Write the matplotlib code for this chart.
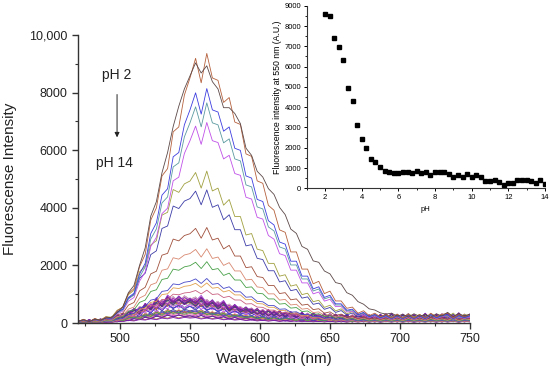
import numpy as np
import matplotlib
matplotlib.use("Agg")
import matplotlib.pyplot as plt
from matplotlib.ticker import MultipleLocator, FixedLocator

plt.rcParams['font.family'] = ['Liberation Sans', 'DejaVu Sans']

# ---------------- data ----------------
wavelength = list(range(470, 751, 4))

# spectral shapes
shape_top = [60, 110, 50, 130, 100, 170, 200, 360,
             560, 1050, 1300, 2000, 2600, 3700, 4200, 5200, 5900, 6800, 7500, 8100, 8550, 9000, 8650,
             8900, 8350, 8100, 7450, 7450, 7250, 6900, 6050, 5800, 5250,
             5050, 4650, 4450, 4000, 3750, 3250, 3100, 2650, 2550, 2150, 2100, 1800, 1700, 1400, 1350,
             1050, 960, 740, 650, 490, 450, 350, 310, 340, 240,
             300, 210, 320, 230, 300, 200, 320, 240, 370, 220, 330, 240, 310]
shape_high = [0.006, 0.015, 0.005, 0.018, 0.01, 0.025, 0.02, 0.05,
              0.065, 0.12, 0.14, 0.23, 0.28, 0.42, 0.47, 0.60, 0.63, 0.78, 0.80, 0.93, 1.0, 1.08, 0.98,
              1.10, 1.0, 0.99, 0.90, 0.92, 0.82, 0.81, 0.69, 0.68, 0.58,
              0.57, 0.48, 0.46, 0.38, 0.37, 0.29, 0.29, 0.22, 0.22, 0.16, 0.17, 0.12, 0.13, 0.09, 0.09,
              0.06, 0.065, 0.04, 0.05, 0.03, 0.04, 0.025, 0.035, 0.02, 0.035,
              0.02, 0.035, 0.02, 0.035, 0.02, 0.04, 0.025, 0.035, 0.04, 0.02, 0.035, 0.025, 0.035]
shape_mid = [0.01, 0.025, 0.008, 0.03, 0.02, 0.045, 0.04, 0.09,
             0.11, 0.2, 0.23, 0.36, 0.40, 0.55, 0.58, 0.76, 0.78, 0.94, 0.92, 0.98, 1.0, 1.06, 0.95,
             1.07, 0.93, 0.95, 0.83, 0.87, 0.75, 0.75, 0.62, 0.63, 0.52,
             0.51, 0.42, 0.42, 0.33, 0.34, 0.26, 0.27, 0.2, 0.21, 0.15, 0.16, 0.11, 0.125, 0.085, 0.1,
             0.065, 0.08, 0.05, 0.07, 0.045, 0.06, 0.04, 0.06, 0.04, 0.06,
             0.035, 0.065, 0.04, 0.06, 0.035, 0.065, 0.045, 0.06, 0.04, 0.07, 0.035, 0.06, 0.05]
shape_low_a = [0.05, 0.15, 0.04, 0.18, 0.08, 0.2, 0.14, 0.3,
               0.3, 0.52, 0.42, 0.7, 0.6, 0.85, 0.68, 1.0, 0.85, 1.12, 0.88, 1.15, 1.0, 1.1, 0.82,
               1.0, 0.78, 0.92, 0.66, 0.8, 0.6, 0.7, 0.5, 0.62, 0.42,
               0.56, 0.38, 0.52, 0.32, 0.46, 0.3, 0.45, 0.26, 0.42, 0.24, 0.38, 0.22, 0.37, 0.2, 0.36,
               0.18, 0.35, 0.2, 0.34, 0.18, 0.36, 0.17, 0.33, 0.2, 0.38,
               0.18, 0.36, 0.16, 0.34, 0.2, 0.38, 0.17, 0.4, 0.2, 0.36, 0.16, 0.38, 0.22]
shape_low_b = [0.12, 0.03, 0.14, 0.05, 0.17, 0.1, 0.25, 0.16,
               0.4, 0.32, 0.6, 0.48, 0.8, 0.62, 0.95, 0.78, 1.08, 0.86, 1.1, 0.9, 1.0, 0.78, 1.05,
               0.74, 0.95, 0.66, 0.86, 0.56, 0.76, 0.5, 0.66, 0.44, 0.6,
               0.36, 0.55, 0.34, 0.5, 0.28, 0.47, 0.26, 0.44, 0.22, 0.4, 0.2, 0.4, 0.18, 0.37, 0.16,
               0.36, 0.15, 0.38, 0.16, 0.34, 0.14, 0.36, 0.18, 0.4, 0.14,
               0.37, 0.16, 0.35, 0.15, 0.4, 0.17, 0.35, 0.14, 0.38, 0.18, 0.42, 0.15, 0.36]
shape_low_c = [0.08, 0.12, 0.02, 0.16, 0.06, 0.22, 0.12, 0.34,
               0.22, 0.46, 0.56, 0.4, 0.78, 0.6, 1.02, 0.72, 1.12, 0.9, 1.02, 0.82, 1.0, 0.88, 1.1,
               0.8, 0.88, 0.72, 0.9, 0.56, 0.72, 0.58, 0.52, 0.6, 0.4,
               0.54, 0.32, 0.5, 0.3, 0.44, 0.36, 0.24, 0.42, 0.22, 0.4, 0.28, 0.2, 0.38, 0.18, 0.34,
               0.26, 0.14, 0.36, 0.22, 0.16, 0.35, 0.2, 0.38, 0.15, 0.3,
               0.2, 0.38, 0.16, 0.32, 0.24, 0.14, 0.36, 0.2, 0.4, 0.16, 0.3, 0.24, 0.36]

# pH titration (inset) - intensity at 550 nm
ph_values = [2.0, 2.25, 2.5, 2.75, 3.0, 3.25, 3.5, 3.75, 4.0, 4.25, 4.5, 4.75, 5.0,
             5.25, 5.5, 5.75, 6.0, 6.25, 6.5, 6.75, 7.0, 7.25, 7.5, 7.75, 8.0,
             8.25, 8.5, 8.75, 9.0, 9.25, 9.5, 9.75, 10.0, 10.25, 10.5, 10.75, 11.0,
             11.25, 11.5, 11.75, 12.0, 12.25, 12.5, 12.75, 13.0, 13.25, 13.5, 13.75, 14.0]
intensity_550 = [8580, 8510, 7400, 6950, 6330, 4930, 4320, 3100, 2410, 1990, 1445, 1300, 1065,
                 853, 790, 770, 755, 820, 820, 740, 870, 770, 800, 640, 820,
                 820, 790, 710, 580, 660, 580, 720, 580, 680, 580, 370, 380,
                 420, 330, 170, 250, 280, 420, 400, 400, 350, 250, 420, 200]

line_colors = ['#5c4848', '#b5603c', '#3c3ce0', '#5a9aa0', '#c050e8', '#a0a040', '#3c3ca8',
               '#a0503c', '#d88870', '#48a048', '#4848c8', '#e0a050', '#c86080',
               '#7a1ab0', '#5a2a8a', '#c040c0', '#3a3a9a', '#8a3a6a', '#f0a8c8', '#6a4a3a',
               '#9a30d0', '#2a2a7a', '#b07040', '#e070e0', '#4a6a8a', '#8040a0']

# ---------------- figure ----------------
fig = plt.figure(figsize=(5.5, 3.72), dpi=100)
ax = fig.add_axes([0.1418, 0.1317, 0.7127, 0.7742])

wl = np.array(wavelength)
top = np.array(shape_top, dtype=float)
top = top / top[wavelength.index(550)]
low_shapes = [np.array(s) for s in (shape_low_a, shape_low_b, shape_low_c)]
n = len(intensity_550)
for i in range(n - 1, -1, -1):
    if i == 0:
        shp = top
    elif i <= 4:
        shp = np.array(shape_high)
    elif i <= 12:
        shp = np.array(shape_mid)
    else:
        shp = low_shapes[i % 3]
    ax.plot(wl, intensity_550[i] * shp, color=line_colors[i % len(line_colors)], lw=0.6)

ax.set_xlim(470, 750)
ax.set_ylim(0, 10000)
ax.xaxis.set_major_locator(FixedLocator([500, 550, 600, 650, 700, 750]))
ax.xaxis.set_minor_locator(MultipleLocator(25))
ax.yaxis.set_major_locator(FixedLocator([0, 2000, 4000, 6000, 8000, 10000]))
ax.set_yticklabels(['0', '2000', '4000', '6000', '8000', '10,000'])
ax.yaxis.set_minor_locator(MultipleLocator(1000))
for s in ('top', 'right'):
    ax.spines[s].set_visible(False)
for s in ('left', 'bottom'):
    ax.spines[s].set_color('#333333')
    ax.spines[s].set_linewidth(1.0)
ax.tick_params(which='major', direction='out', length=4, width=1, labelsize=9, colors='#333333',
               labelcolor='#222222')
ax.tick_params(which='minor', direction='out', length=2.5, width=0.8, colors='#333333')
ax.set_xlabel('Wavelength (nm)', fontsize=11, color='#222222', labelpad=5)
ax.set_ylabel('Fluorescense Intensity', fontsize=11, color='#222222', labelpad=9)

ax.text(497.9, 8610, 'pH 2', fontsize=10, ha='center', va='center', color='#222222')
ax.text(495.7, 5555, 'pH 14', fontsize=10, ha='center', va='center', color='#222222')
ax.annotate('', xy=(497.9, 6350), xytext=(497.9, 8030),
            arrowprops=dict(arrowstyle='-|>', color='#222222', lw=0.7, mutation_scale=7))

# ---------------- inset ----------------
ins = fig.add_axes([0.5576, 0.4938, 0.4333, 0.4906])
ins.plot(ph_values, intensity_550, 's', color='black', markersize=3)
ins.set_xlim(1, 14)
ins.set_ylim(0, 9000)
ins.xaxis.set_major_locator(FixedLocator([2, 4, 6, 8, 10, 12, 14]))
ins.xaxis.set_minor_locator(MultipleLocator(1))
ins.yaxis.set_major_locator(MultipleLocator(1000))
ins.yaxis.set_minor_locator(MultipleLocator(500))
for s in ('top', 'right'):
    ins.spines[s].set_visible(False)
for s in ('left', 'bottom'):
    ins.spines[s].set_linewidth(0.8)
    ins.spines[s].set_color('#333333')
ins.tick_params(which='major', direction='out', length=2.5, width=0.7, labelsize=5.5, pad=1.5)
ins.tick_params(which='minor', direction='out', length=1.5, width=0.6)
ins.set_xlabel('pH', fontsize=5.5, labelpad=4)
ins.set_ylabel('Fluorescence intensity at 550 nm (A.U.)', fontsize=6.3, labelpad=2)
ins.patch.set_alpha(0)

fig.savefig('out.png', dpi=100)
